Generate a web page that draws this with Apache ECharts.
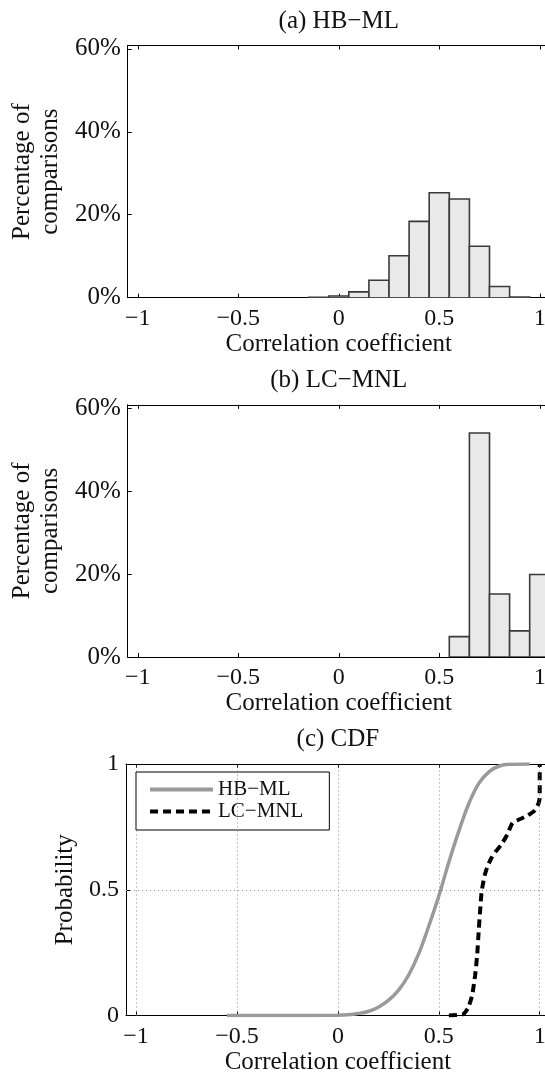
<!DOCTYPE html>
<html>
<head>
<meta charset="utf-8">
<script src="https://cdn.jsdelivr.net/npm/echarts@6/dist/echarts.min.js"></script>
<style>
  html, body { margin: 0; padding: 0; overflow: hidden; background: #fff; }
  #chart { width: 560px; height: 1077px; }
</style>
</head>
<body>
<div id="chart"></div>
<script>
// Histogram bins: centres of the correlation-coefficient bins (width 0.1)
const binCenters = [-1.0, -0.9, -0.8, -0.7, -0.6, -0.5, -0.4, -0.3, -0.2, -0.1,
                    0.0, 0.1, 0.2, 0.3, 0.4, 0.5, 0.6, 0.7, 0.8, 0.9, 1.0];
const binWidth = 0.1;

// (a) HB-ML: percentage of comparisons per bin
const hbmlPct = [0, 0, 0, 0, 0, 0, 0, 0, 0, 0.1,
                 0.4, 1.4, 4.2, 10.1, 18.4, 25.3, 23.8, 12.4, 2.7, 0.15, 0];

// (b) LC-MNL: percentage of comparisons per bin
const lcmnlPct = [0, 0, 0, 0, 0, 0, 0, 0, 0, 0,
                  0, 0, 0, 0, 0, 0, 4.9, 54.0, 15.2, 6.3, 19.9];

// (c) empirical CDFs: [correlation coefficient, probability]
const hbmlCdf = [
  [-0.55, 0], [-0.3, 0], [0.0, 0.001], [0.05, 0.003], [0.1, 0.008], [0.15, 0.016],
  [0.2, 0.033], [0.25, 0.06], [0.3, 0.1], [0.35, 0.16], [0.4, 0.245], [0.45, 0.355],
  [0.5, 0.475], [0.55, 0.61], [0.6, 0.735], [0.65, 0.845], [0.7, 0.925], [0.75, 0.97],
  [0.8, 0.992], [0.85, 0.999], [0.95, 1.0]
];
const lcmnlCdf = [
  [0.55, 0], [0.62, 0.005], [0.645, 0.03], [0.665, 0.08], [0.68, 0.16], [0.69, 0.24],
  [0.698, 0.34], [0.705, 0.42], [0.712, 0.49], [0.725, 0.55], [0.74, 0.59], [0.76, 0.625],
  [0.78, 0.65], [0.81, 0.68], [0.84, 0.72], [0.865, 0.765], [0.9, 0.78], [0.94, 0.795],
  [0.975, 0.815], [0.995, 0.845], [1.0, 0.87], [1.0, 1.0]
];

// Axis ticks and texts
const xTicks = [-1, -0.5, 0, 0.5, 1];
const pctTicks = [0, 20, 40, 60];
const probTicks = [0, 0.5, 1];
const panelTitles = ['(a) HB\u2212ML', '(b) LC\u2212MNL', '(c) CDF'];
const xName = 'Correlation coefficient';
const pctName = 'Percentage of\ncomparisons';
const probName = 'Probability';
const seriesNames = ['HB\u2212ML', 'LC\u2212MNL'];

const FONT = "'Liberation Serif', 'DejaVu Serif', serif";
const INK = '#111';

function fmtX(v) { return (v < 0 ? '\u2212' : '') + Math.abs(v); }

const grids = [
  { left: 126, width: 423.8, top: 45.5, height: 252.2 },
  { left: 126, width: 423.8, top: 404.8, height: 252.2 },
  { left: 126, width: 423.8, top: 764, height: 251.5 }
];

const tickStyle = { inside: true, length: 4, lineStyle: { color: '#000', width: 1 } };
const lineStyle = { show: true, onZero: false, lineStyle: { color: '#000', width: 1 } };

const xAxes = [];
grids.forEach((g, i) => {
  xAxes.push({
    type: 'value', gridIndex: i, position: 'bottom', min: -1.05, max: 1.05,
    axisLine: lineStyle,
    axisTick: Object.assign({ customValues: xTicks }, tickStyle),
    axisLabel: { customValues: xTicks, formatter: fmtX, margin: 9,
                 fontFamily: FONT, fontSize: 24, color: INK },
    splitLine: { show: false },
    name: xName, nameLocation: 'middle', nameGap: 34,
    nameTextStyle: { fontFamily: FONT, fontSize: 25, color: INK }
  });
  xAxes.push({
    type: 'value', gridIndex: i, position: 'top', min: -1.05, max: 1.05,
    axisLine: lineStyle,
    axisTick: Object.assign({ customValues: xTicks }, tickStyle),
    axisLabel: { show: false },
    splitLine: { show: false },
    name: panelTitles[i], nameLocation: 'middle', nameGap: 12,
    nameTextStyle: { fontFamily: FONT, fontSize: 25, color: INK }
  });
});

const yAxes = [0, 1].map(i => ({
  type: 'value', gridIndex: i, min: 0, max: 60.8,
  axisLine: lineStyle,
  axisTick: Object.assign({ customValues: pctTicks }, tickStyle),
  axisLabel: { customValues: pctTicks, formatter: v => v + '%', margin: 7,
               fontFamily: FONT, fontSize: 25, color: INK },
  splitLine: { show: false },
  name: pctName, nameLocation: 'middle', nameGap: 61,
  nameTextStyle: { fontFamily: FONT, fontSize: 25, color: INK, lineHeight: 28 }
}));
yAxes.push({
  type: 'value', gridIndex: 2, min: 0, max: 1, interval: 0.5,
  axisLine: lineStyle,
  axisTick: Object.assign({ customValues: probTicks }, tickStyle),
  axisLabel: { customValues: probTicks, formatter: v => String(v), margin: 7,
               fontFamily: FONT, fontSize: 24, color: INK },
  splitLine: { show: false },
  name: probName, nameLocation: 'middle', nameGap: 48,
  nameTextStyle: { fontFamily: FONT, fontSize: 25, color: INK }
});

function histSeries(values, xi, yi) {
  return {
    type: 'custom', name: 'hist' + yi, xAxisIndex: xi, yAxisIndex: yi, clip: true,
    data: binCenters.map((c, k) => [c, values[k]]),
    renderItem: function (params, api) {
      const c = api.value(0), v = api.value(1);
      if (!(v > 0)) return null;
      const p0 = api.coord([c - binWidth / 2, v]);
      const p1 = api.coord([c + binWidth / 2, 0]);
      return {
        type: 'rect',
        shape: { x: p0[0], y: p0[1], width: p1[0] - p0[0], height: p1[1] - p0[1] },
        style: { fill: '#e9e9e9', stroke: '#3a3a3a', lineWidth: 1.6 }
      };
    },
    z: 2
  };
}

const option = {
  animation: false,
  backgroundColor: '#fff',
  grid: grids,
  xAxis: xAxes,
  yAxis: yAxes,
  legend: {
    data: seriesNames,
    orient: 'vertical',
    left: 136, top: 772,
    padding: [7, 26, 8, 12],
    itemGap: 1,
    itemWidth: 63, itemHeight: 14,
    borderColor: '#000', borderWidth: 1, borderRadius: 0,
    backgroundColor: '#fff',
    itemStyle: { opacity: 0 },
    lineStyle: { width: 4 },
    textStyle: { fontFamily: FONT, fontSize: 21, color: INK }
  },
  series: [
    histSeries(hbmlPct, 0, 0),
    histSeries(lcmnlPct, 2, 1),
    {
      // dotted grid for the CDF panel
      type: 'line', name: 'grid', xAxisIndex: 4, yAxisIndex: 2, data: [], z: 1,
      markLine: {
        silent: true, symbol: 'none', label: { show: false },
        lineStyle: { color: '#8a8a8a', type: [1, 3], width: 1 },
        data: xTicks.map(v => ({ xAxis: v })).concat([{ yAxis: 0.5 }])
      }
    },
    {
      type: 'line', name: seriesNames[0], xAxisIndex: 4, yAxisIndex: 2,
      data: hbmlCdf, symbol: 'none', smooth: 0.4, z: 3,
      itemStyle: { color: '#9a9a9a' },
      lineStyle: { color: '#9a9a9a', width: 3.5 }
    },
    {
      type: 'line', name: seriesNames[1], xAxisIndex: 4, yAxisIndex: 2,
      data: lcmnlCdf, symbol: 'none', smooth: 0.2, z: 4,
      itemStyle: { color: '#000' },
      lineStyle: { color: '#000', width: 4, type: [8, 5], cap: 'butt' }
    }
  ]
};

const chart = echarts.init(document.getElementById('chart'), null, { renderer: 'canvas' });
chart.setOption(option);
</script>
</body>
</html>
